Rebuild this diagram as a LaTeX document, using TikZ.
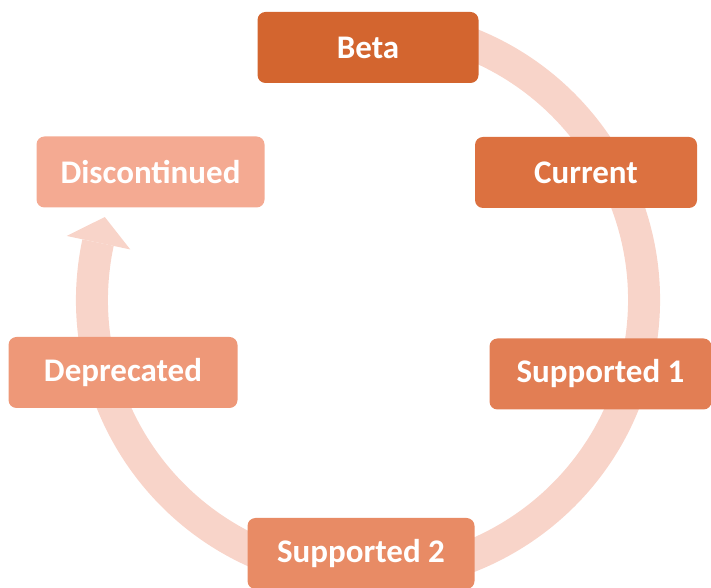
\documentclass[tikz,border=0pt]{standalone}
\usepackage{fontspec}
\setmainfont{Carlito}
\definecolor{cBeta}{HTML}{D3652F}
\definecolor{cCur}{HTML}{DC7140}
\definecolor{cSupA}{HTML}{E27E54}
\definecolor{cSupB}{HTML}{E88B65}
\definecolor{cDep}{HTML}{EE9878}
\definecolor{cDis}{HTML}{F4AA92}
\definecolor{cRing}{HTML}{F8D4C9}
\tikzset{
  stage/.style={rectangle, rounded corners=8pt, text=white, minimum height=71pt,
    inner sep=0pt, font=\fontsize{33}{39}\selectfont\bfseries},
  ring/.style={draw=cRing, line width=32pt},
}
\begin{document}
\begin{tikzpicture}[x=1pt,y=1pt]
\useasboundingbox (0,0) rectangle (711,588);
\coordinate (c) at (368,288);
% ring with arrowhead
\draw[ring] ([shift={(78:276)}]c) arc[start angle=78, end angle=-192, radius=276];
\fill[cRing] ([shift={(-192:243)}]c) -- ([shift={(-192:308)}]c) -- ([shift={(-197.5:276)}]c) -- cycle;
% stages
\node[stage, fill=cBeta, minimum width=221pt] (beta) at (368,540.5) {Beta};
\node[stage, fill=cCur, minimum width=222pt] (current) at (586,415.5) {Current};
\node[stage, fill=cSupA, minimum width=222pt] (sup1) at (600.5,214) {Supported 1};
\node[stage, fill=cSupB, minimum width=227pt] (sup2) at (361,34.5) {Supported 2};
\node[stage, fill=cDep, minimum width=229pt] (dep) at (123,215.5) {Deprecated};
\node[stage, fill=cDis, minimum width=228pt] (dis) at (150.5,416) {Discontinued};
\end{tikzpicture}
\end{document}
